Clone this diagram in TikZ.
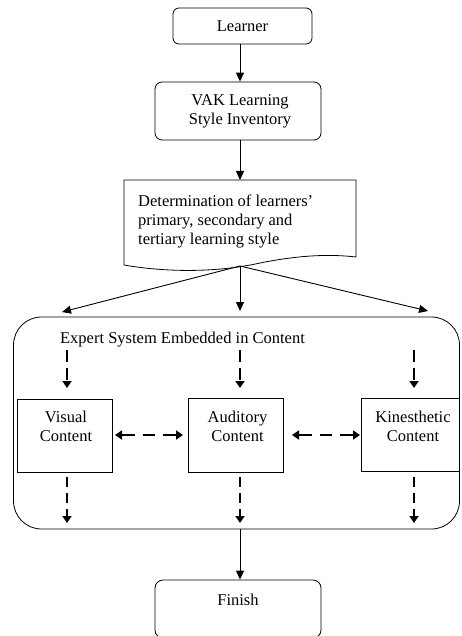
\documentclass[tikz,border=0pt]{standalone}
\usepackage{fontspec}
\setmainfont{Liberation Serif}
\usetikzlibrary{arrows.meta,calc}
\begin{document}
\begin{tikzpicture}[x=1pt,y=-1pt,
  font=\fontsize{16.5}{19}\selectfont,
  box/.style={draw, line width=0.8pt, inner sep=0pt},
  rbox/.style={box, rounded corners=7pt},
  txt/.style={align=center, inner sep=0pt},
  sarrow/.style={draw, line width=0.9pt, -{Triangle[length=9pt,width=8pt]}},
  darrow/.style={draw, line width=2.8pt, -{Triangle[length=7pt,width=9pt]}},
  dbarrow/.style={draw, line width=2.8pt, dash pattern=on 13pt off 8pt on 12pt off 8pt on 13pt off 100pt, {Triangle[length=7pt,width=9pt]}-{Triangle[length=7pt,width=9pt]}}
  ]
\useasboundingbox (0,0) rectangle (461,636);
\clip (0,0) rectangle (461,636);

% top boxes
\node[rbox, rounded corners=6pt, minimum width=139, minimum height=36] (learner) at (242.5,26) {};
\node[txt] (learnert) at (242.5,26) {Learner};
\node[rbox, minimum width=166, minimum height=58] (vak) at (238,111) {};
\node[txt] (vakt) at (240,111) {VAK Learning\\Style Inventory};

% document shape
\draw[line width=0.8pt] (124,180) -- (356,180) -- (356,257)
  .. controls (330,254) and (300,255) .. (260,263)
  .. controls (220,272) and (170,273) .. (124,265) -- cycle;
\node[txt, align=left, anchor=west] (det) at (138,221) {Determination of learners'\\primary, secondary and\\tertiary learning style};
\coordinate (doctop) at (240,180);
\coordinate (docb) at (240,266);

% big expert system box
\node[box, rounded corners=28pt, minimum width=446, minimum height=212] (esys) at (236.5,423) {};
\node[txt] (esyst) at (182.5,340) {Expert System Embedded in Content};

% content boxes
\node[box, minimum width=95, minimum height=73] (vis) at (64.5,435.5) {};
\node[txt] (vist) at (66,426.5) {Visual\\Content};
\node[box, minimum width=95, minimum height=74] (aud) at (235.5,435) {};
\node[txt] (audt) at (237.5,426.5) {Auditory\\Content};
\node[box, minimum width=98, minimum height=73] (kin) at (410,434.5) {};
\node[txt] (kint) at (413,426.5) {Kinesthetic\\Content};

% finish
\node[rbox, rounded corners=8pt, minimum width=166, minimum height=58] (fin) at (238,609) {};
\node[txt] (fint) at (238,600) {Finish};

% solid arrows
\draw[sarrow] (learner.south -| 240,0) -- (vak.north -| 240,0);
\draw[sarrow] (vak.south -| 240,0) -- (doctop);
\coordinate (a1) at (62,312);
\coordinate (a2) at (240,311);
\coordinate (a3) at (428,311);
\draw[sarrow] (docb) -- (a1);
\draw[sarrow] (docb) -- (a2);
\draw[sarrow] (docb) -- (a3);
\draw[sarrow] (240,529) -- (fin.north -| 240,0);

% dashed arrows inside
\foreach \x/\n in {67/1,240/2,414/3}{
  \coordinate (ts\n) at (\x,350);
  \coordinate (te\n) at (\x,388);
  \coordinate (bs\n) at (\x,477);
  \coordinate (be\n) at (\x,523);
  \draw[darrow, dash pattern=on 12pt off 6pt] (ts\n) -- (te\n);
  \draw[darrow, dash pattern=on 10pt off 6pt] (bs\n) -- (be\n);
}
\coordinate (h1) at (115,435);
\coordinate (h2) at (183,435);
\coordinate (h3) at (292,435);
\coordinate (h4) at (360,435);
\draw[dbarrow] (h1) -- (h2);
\draw[dbarrow] (h3) -- (h4);
\end{tikzpicture}
\end{document}
